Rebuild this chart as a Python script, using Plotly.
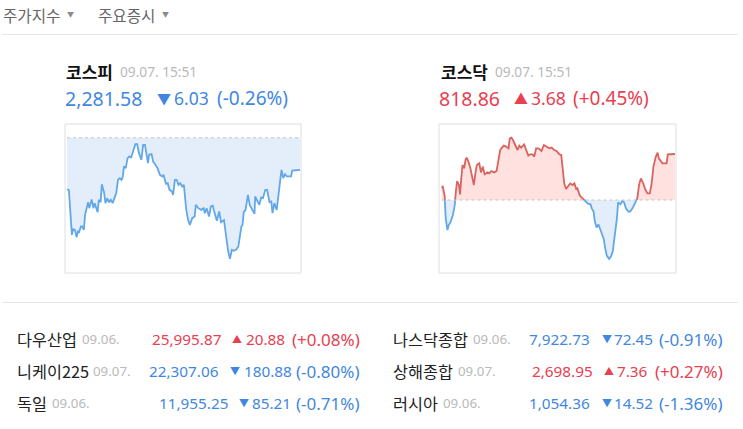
import plotly.graph_objects as go

W = 743
H = 429

# minutes after the open, index level
kospi_min = [1, 4, 6, 9, 11, 14, 17, 19, 21, 24, 26, 29, 31, 34, 36, 38, 42, 45, 47, 52, 54, 57, 59, 63, 65, 68, 71, 74, 77, 79,
             83, 86, 89, 92, 94, 96, 99, 102, 105, 108, 112, 115, 118, 121, 125, 128, 131, 134, 136, 138, 142, 145, 148, 152,
             156, 160, 162, 166, 169, 172, 176, 178, 181, 184, 187, 190, 193, 196, 200, 203, 206, 210, 214, 216, 220, 225, 229,
             231, 234, 238, 241, 244, 248, 251, 255, 258, 263, 268, 270, 273, 276, 279, 283, 287, 292, 294, 296, 299, 303, 306,
             310, 314, 315, 319, 322, 325, 328, 332, 335, 339, 342, 344, 347, 351, 355, 359, 362, 365, 368, 375, 377, 390]
kospi_val = [2277.95, 2277.77, 2274.38, 2269.37, 2270.43, 2270.31, 2268.93, 2270.00, 2269.87, 2270.94, 2270.94, 2270.31, 2273.13,
             2274.70, 2275.51, 2274.38, 2276.01, 2274.38, 2275.32, 2273.63, 2275.95, 2275.51, 2278.89, 2277.20, 2275.32, 2276.26,
             2275.45, 2275.95, 2275.32, 2275.95, 2277.20, 2279.71, 2280.02, 2279.71, 2280.34, 2282.22, 2281.90, 2283.78, 2284.10,
             2283.91, 2285.66, 2286.42, 2286.42, 2284.72, 2283.47, 2286.29, 2286.29, 2284.10, 2282.84, 2284.41, 2284.53, 2283.03,
             2282.65, 2281.90, 2280.65, 2280.34, 2280.65, 2278.96, 2279.08, 2277.83, 2277.52, 2276.89, 2279.71, 2279.71, 2278.77,
             2279.08, 2278.46, 2278.77, 2274.07, 2272.19, 2271.25, 2272.50, 2272.82, 2275.01, 2274.38, 2274.07, 2274.38, 2273.44,
             2274.38, 2272.82, 2274.70, 2274.88, 2273.44, 2272.00, 2273.76, 2271.75, 2272.13, 2268.12, 2266.24, 2264.86, 2266.55,
             2266.36, 2266.55, 2267.18, 2270.94, 2271.25, 2273.63, 2274.07, 2276.89, 2275.01, 2274.07, 2273.32, 2276.58, 2275.76,
             2275.01, 2276.39, 2276.26, 2277.83, 2277.83, 2275.51, 2275.64, 2273.44, 2275.32, 2274.07, 2277.83, 2281.59, 2280.02,
             2280.77, 2280.34, 2280.34, 2281.46, 2281.58]
kospi_prev = 2287.61

kosdaq_min = [0, 2, 5, 7, 10, 12, 15, 19, 22, 24, 26, 29, 31, 33, 35, 38, 40, 42, 45, 48, 51, 54, 57, 59, 63, 66, 69, 72, 77, 80,
              83, 88, 92, 95, 98, 101, 104, 108, 112, 114, 117, 120, 123, 127, 130, 133, 138, 141, 145, 148, 152, 155, 158, 162,
              167, 171, 176, 180, 184, 188, 192, 197, 200, 202, 205, 208, 212, 215, 219, 222, 225, 227, 231, 234, 237, 241, 244,
              249, 251, 254, 256, 259, 262, 265, 268, 271, 273, 276, 280, 283, 286, 290, 293, 295, 299, 302, 305, 308, 312, 315,
              319, 323, 327, 330, 333, 337, 340, 344, 348, 351, 354, 358, 361, 363, 366, 369, 376, 378, 390]
kosdaq_val = [816.17, 816.25, 815.58, 813.71, 812.78, 813.18, 813.39, 813.98, 814.73, 815.85, 816.70, 816.38, 815.63, 816.91,
              817.98, 817.71, 818.38, 818.57, 818.25, 817.77, 816.91, 816.38, 817.45, 817.98, 818.11, 817.39, 817.85, 817.23,
              817.39, 817.31, 817.50, 817.39, 817.50, 818.51, 819.18, 819.37, 819.53, 819.45, 819.31, 820.11, 820.17, 819.90,
              819.58, 819.18, 819.53, 819.37, 819.63, 819.18, 818.73, 818.83, 818.83, 818.65, 819.31, 819.31, 819.10, 819.58,
              819.45, 819.31, 819.37, 819.18, 819.10, 818.83, 818.78, 817.58, 816.51, 816.06, 816.33, 816.51, 816.38, 816.51,
              816.06, 816.11, 815.53, 815.37, 815.26, 814.99, 814.91, 814.83, 814.51, 814.25, 813.50, 812.97, 813.23, 812.86,
              812.38, 812.06, 811.45, 810.73, 810.46, 810.65, 811.05, 812.38, 813.71, 814.99, 814.83, 815.10, 814.99, 814.51,
              814.25, 814.25, 814.51, 814.91, 815.31, 816.38, 816.91, 816.51, 816.06, 815.71, 815.71, 816.51, 817.85, 818.65,
              818.97, 818.51, 818.25, 818.11, 818.11, 818.83, 818.86]
kosdaq_prev = 815.18

# header texts
menu_labels = ["주가지수", "주요증시"]
head_names = ["코스피", "코스닥"]
head_times = ["09.07. 15:51", "09.07. 15:51"]
head_values = ["2,281.58", "818.86"]
head_changes = ["6.03", "3.68"]
head_pcts = ["(-0.26%)", "(+0.45%)"]
head_up = [False, True]

# bottom table, left column then right column
row_names = ["다우산업", "니케이225", "독일", "나스닥종합", "상해종합", "러시아"]
row_dates = ["09.06.", "09.07.", "09.06.", "09.06.", "09.07.", "09.06."]
row_values = ["25,995.87", "22,307.06", "11,955.25", "7,922.73", "2,698.95", "1,054.36"]
row_changes = ["20.88", "180.88", "85.21", "72.45", "7.36", "14.52"]
row_pcts = ["(+0.08%)", "(-0.80%)", "(-0.71%)", "(-0.91%)", "(+0.27%)", "(-1.36%)"]
row_up = [True, False, False, False, True, False]

BLUE = "#3f87e0"
RED = "#e8404f"
GREY = "#b9b9b9"
LINE_BLUE = "#62a8e8"
LINE_RED = "#d9635f"
FILL_BLUE = "#e3eefa"
FILL_RED = "#ffe2e0"
FONT = "Noto Sans, Noto Sans CJK KR, sans-serif"
KR_FONT = "Noto Sans CJK KR, sans-serif"


def px_x(x):
    return x / W


def px_y(y):
    return 1 - y / H


def label(x, y, text, size, color, anchor="left", family=FONT):
    fig.add_annotation(x=px_x(x), y=px_y(y), xref="paper", yref="paper", text=text, showarrow=False,
                       xanchor=anchor, yanchor="middle", borderpad=0,
                       font=dict(size=size, color=color, family=family))


def area(xs, ys, prev, color, fill, xa, ya):
    base = [prev] * len(xs)
    fig.add_trace(go.Scatter(x=xs, y=base, mode="lines", line=dict(width=0), xaxis=xa, yaxis=ya, hoverinfo="skip"))
    fig.add_trace(go.Scatter(x=xs, y=ys, mode="lines", fill="tonexty", fillcolor=fill,
                             line=dict(color=color, width=1.8), xaxis=xa, yaxis=ya))
    fig.add_trace(go.Scatter(x=xs, y=base, mode="lines", line=dict(color="#c4c4c4", width=1, dash="3px,3px"),
                             xaxis=xa, yaxis=ya, hoverinfo="skip"))


fig = go.Figure()

area(kospi_min, kospi_val, kospi_prev, LINE_BLUE, FILL_BLUE, "x", "y")
# the two halves of the kosdaq panel clip the same line at the previous close
area(kosdaq_min, kosdaq_val, kosdaq_prev, LINE_RED, FILL_RED, "x2", "y2")
area(kosdaq_min, kosdaq_val, kosdaq_prev, LINE_BLUE, FILL_BLUE, "x3", "y3")

hidden = dict(visible=False, fixedrange=True)
fig.update_layout(
    width=W, height=H, margin=dict(l=0, r=0, t=0, b=0), autosize=False,
    paper_bgcolor="white", plot_bgcolor="rgba(0,0,0,0)", showlegend=False,
    xaxis=dict(domain=[px_x(65), px_x(301)], range=[-2.5, 391.6], anchor="y", **hidden),
    yaxis=dict(domain=[px_y(273), px_y(124)], range=[2262.2, 2290.2], anchor="x", **hidden),
    xaxis2=dict(domain=[px_x(439), px_x(676)], range=[-4.2, 391.7], anchor="y2", **hidden),
    yaxis2=dict(domain=[px_y(200), px_y(124)], range=[kosdaq_prev, 821.26], anchor="x2", **hidden),
    xaxis3=dict(domain=[px_x(439), px_x(676)], range=[-4.2, 391.7], anchor="y3", **hidden),
    yaxis3=dict(domain=[px_y(273), px_y(200)], range=[809.34, kosdaq_prev], anchor="x3", **hidden),
)

# panel frames and separators
for x0, x1 in [(65, 301), (439, 676)]:
    fig.add_shape(type="rect", xref="paper", yref="paper", x0=px_x(x0), x1=px_x(x1), y0=px_y(273), y1=px_y(124),
                  line=dict(color="#dedede", width=1))
for y in [34.5, 302.5]:
    fig.add_shape(type="line", xref="paper", yref="paper", x0=px_x(2), x1=px_x(738), y0=px_y(y), y1=px_y(y),
                  line=dict(color="#e6e6e6", width=1))

# top menu
for x, text, ax in zip([2, 97], menu_labels, [70, 165]):
    label(x, 15, text, 15.6, "#666666", family=KR_FONT)
    label(ax, 14, "▼", 7, "#8a8a8a", anchor="center")

# index headers
head_x = [(65, 119, 64, 164, 173, 216), (440, 494, 438, 521, 530, 572)]
for pos, name, tm, val, chg, pct, up in zip(head_x, head_names, head_times, head_values, head_changes, head_pcts, head_up):
    color = RED if up else BLUE
    label(pos[0], 71, "<b>" + name + "</b>", 17, "#111111", family=KR_FONT)
    label(pos[1], 71, tm, 13.7, GREY)
    label(pos[2], 98, val, 19.5, color)
    label(pos[3], 98, "▲" if up else "▼", 14, color, anchor="center")
    label(pos[4], 98, chg, 17.5, color)
    label(pos[5], 98, pct, 19, color)

# table
row_y = [339, 371, 403, 339, 371, 403]
name_x = [16, 16, 16, 392, 392, 392]
date_x = [81, 92, 51, 472, 457, 442]
value_r = [222, 220, 229, 591, 594, 591]
tri_x = [237, 235, 244, 607, 609, 607]
chg_x = [245, 243, 251, 613, 616, 613]
pct_r = [361, 361, 361, 724, 724, 724]
for i in range(6):
    color = RED if row_up[i] else BLUE
    label(name_x[i], row_y[i], row_names[i], 16.3, "#222222", family=KR_FONT)
    label(date_x[i], row_y[i], row_dates[i], 13.3, GREY)
    label(value_r[i], row_y[i], row_values[i], 15.3, color, anchor="right")
    label(tri_x[i], row_y[i], "▲" if row_up[i] else "▼", 10, color, anchor="center")
    label(chg_x[i], row_y[i], row_changes[i], 15.3, color)
    label(pct_r[i], row_y[i], row_pcts[i], 17, color, anchor="right")

fig.write_html("out.html", config=dict(displayModeBar=False), post_script="document.body.style.margin='0';")
